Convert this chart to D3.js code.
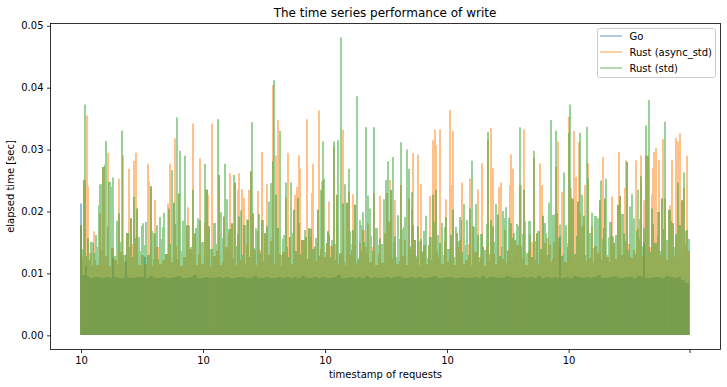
<!DOCTYPE html>
<html><head><meta charset="utf-8">
<script src="https://cdn.jsdelivr.net/npm/d3@7"></script>
<style>html,body{margin:0;padding:0;background:#fff;overflow:hidden}svg{display:block}text{font-family:"DejaVu Sans",sans-serif;fill:#000}</style>
</head><body><div id="c"></div>
<script>
const titleText = "The time series performance of write";
const xLabel = "timestamp of requests";
const yLabel = "elapsed time [sec]";
const seriesNames = ["Go","Rust (async_std)","Rust (std)"];
const seriesColors = ["#1f77b4","#ff7f0e","#2ca02c"];
const xTickSlots = [0,122,244,366,487.6,608.5];
const xTickLabels = ["10","10","10","10","10",""];
const yTickValues = [0,0.01,0.02,0.03,0.04,0.05];

// envelope of the dense band: Go every 4 slots, Rust every 3 slots
const goBand = [.0098,.0096,.0093,.0095,.0094,.0092,.0094,.0093,.0095,.0093,.0092,.0094,.0093,.0092,.0095,.0094,.0093,.0096,.0093,.0092,.0094,.0092,.0093,.0094,.0096,.0093,.0092,.0095,.0098,.0093,.0092,.0094,.0093,.0092,.0095,.0093,.0094,.0092,.0093,.0095,.0094,.0092,.0093,.0096,.0093,.0092,.0095,.0093,.0092,.0094,.0093,.0095,.0092,.0094,.0093,.0096,.0093,.0092,.0094,.0093,.0095,.0092,.0093,.0094,.0097,.0093,.0092,.0094,.0093,.0095,.0092,.0096,.0093,.0094,.0092,.0093,.0095,.0092,.0094,.0096,.0093,.0092,.0095,.0093,.0094,.0092,.0093,.0094,.0096,.0092,.0093,.0095,.0094,.0092,.0093,.0095,.0093,.0092,.0094,.0093,.0096,.0092,.0094,.0095,.0092,.0093,.0096,.0094,.0093,.0092,.0095,.0093,.0094,.0092,.0096,.0093,.0094,.0092,.0095,.0093,.0092,.0094,.0093,.0096,.0094,.0092,.0095,.0093,.0094,.0098,.0093,.0092,.0094,.0096,.0093,.0092,.0095,.0094,.0093,.0096,.0094,.0092,.0093,.0095,.0094,.0093,.0096,.0094,.0093,.0095,.0090,.0084,.0076];
const asyncBand = [.0126,.0118,.0133,.0112,.0121,.0114,.0138,.0116,.0128,.0112,.0141,.0122,.0115,.0134,.0118,.0111,.0126,.0147,.0119,.0113,.0129,.0115,.0137,.0112,.0124,.0142,.0116,.0121,.0132,.0113,.0118,.0145,.0123,.0112,.0127,.0116,.0139,.0119,.0113,.0131,
.0115,.0148,.0122,.0111,.0128,.0136,.0114,.0119,.0143,.0117,.0125,.0112,.0134,.0121,.0115,.0146,.0118,.0127,.0113,.0138,.0120,.0114,.0130,.0152,.0116,.0124,.0112,.0135,.0119,.0141,.0115,.0128,.0113,.0123,.0149,.0117,.0131,.0112,.0120,.0139,
.0116,.0126,.0113,.0144,.0121,.0115,.0133,.0118,.0112,.0129,.0147,.0116,.0122,.0137,.0113,.0125,.0119,.0142,.0114,.0131,.0117,.0112,.0136,.0123,.0150,.0115,.0120,.0128,.0113,.0140,.0118,.0125,.0114,.0133,.0146,.0116,.0121,.0112,.0137,.0127,
.0115,.0152,.0119,.0124,.0113,.0142,.0130,.0116,.0122,.0148,.0114,.0135,.0118,.0126,.0112,.0144,.0120,.0132,.0115,.0155,.0123,.0117,.0138,.0113,.0128,.0146,.0119,.0125,.0114,.0136,.0151,.0121,.0116,.0133,.0127,.0158,.0118,.0124,.0115,.0142,
.0131,.0119,.0149,.0122,.0116,.0137,.0128,.0154,.0120,.0125,.0117,.0145,.0133,.0121,.0160,.0126,.0118,.0140,.0123,.0152,.0130,.0119,.0147,.0125,.0136,.0120,.0156,.0128,.0122,.0143,.0134,.0162,.0124,.0130,.0148,.0121,.0138,.0127,.0155,.0132,
.0124,.0146,.0136,.0120,.0105];
const stdBand = [.0140,.0128,.0122,.0151,.0133,.0126,.0162,.0138,.0124,.0170,.0145,.0128,.0183,.0150,.0130,.0166,.0142,.0126,.0158,.0137,.0176,.0146,.0129,.0168,.0135,.0124,.0155,.0172,.0131,.0148,.0127,.0180,.0153,.0136,.0125,.0160,.0143,.0129,.0174,.0132,
.0150,.0126,.0165,.0139,.0182,.0147,.0128,.0158,.0134,.0171,.0124,.0145,.0163,.0130,.0178,.0152,.0127,.0141,.0168,.0133,.0186,.0148,.0125,.0159,.0137,.0174,.0129,.0155,.0143,.0127,.0166,.0136,.0181,.0131,.0149,.0124,.0172,.0140,.0157,.0128,
.0176,.0135,.0162,.0126,.0147,.0184,.0132,.0154,.0129,.0169,.0138,.0145,.0125,.0178,.0151,.0130,.0160,.0136,.0174,.0127,.0148,.0166,.0133,.0188,.0141,.0126,.0156,.0171,.0130,.0144,.0179,.0128,.0153,.0137,.0168,.0125,.0159,.0183,.0134,.0147,
.0129,.0175,.0140,.0162,.0127,.0152,.0186,.0135,.0146,.0130,.0170,.0155,.0126,.0164,.0138,.0180,.0131,.0150,.0173,.0128,.0142,.0189,.0136,.0158,.0129,.0176,.0144,.0163,.0133,.0185,.0127,.0152,.0169,.0139,.0181,.0130,.0148,.0194,.0135,.0157,
.0128,.0172,.0143,.0187,.0132,.0160,.0150,.0178,.0129,.0165,.0141,.0192,.0136,.0155,.0174,.0130,.0183,.0147,.0162,.0134,.0196,.0152,.0138,.0176,.0131,.0168,.0188,.0144,.0158,.0135,.0180,.0149,.0199,.0137,.0171,.0154,.0185,.0142,.0164,.0178,
.0139,.0168,.0156,.0130,.0108];

// isolated slow requests per series
const goSlots = [0,0,32,45,64,479,563,5];
const goPeaks = [.0213,.0122,.0125,.0120,.0127,.0160,.0150,.0112];
const asyncSlots = [7,6,4,10,13,23,27,38,42,46,48,53,55,67,68,74,87,89,94,112,107,119,125,127,131,138,149,154,158,157,161,163,168,170,177,181,186,192,195,197,207,214,216,218,219,226,232,231,238,241,248,253,262,266,268,272,283,299,309,314,332,337,340,349,352,354,355,359,365,369,370,372,381,389,397,401,407,410,412,418,420,429,430,432,440,443,453,459,461,477,475,481,488,490,493,495,498,504,507,522,531,538,544,545,555,560,563,565,571,572,575,573,578,582,589,591,595,597,599,606,608];
const asyncPeaks = [.0241,.0355,.0251,.0133,.0168,.0272,.0295,.0253,.0291,.0165,.0269,.0282,.0295,.0277,.0249,.0219,.0213,.0277,.0318,.0342,.0207,.0286,.0236,.0227,.0342,.0258,.0262,.0247,.0262,.0235,.0236,.0222,.0235,.0264,.0233,.0296,.0244,.0404,.0291,.0348,.0295,.0227,.0240,.0291,.0269,.0349,.0277,.0230,.0363,.0249,.0216,.0305,.0332,.0214,.0231,.0228,.0170,.0225,.0251,.0218,.0294,.0292,.0244,.0225,.0315,.0332,.0307,.0333,.0220,.0364,.0243,.0330,.0247,.0253,.0236,.0278,.0316,.0335,.0270,.0239,.0247,.0243,.0292,.0269,.0243,.0333,.0286,.0278,.0243,.0313,.0272,.0231,.0353,.0238,.0330,.0256,.0312,.0243,.0278,.0288,.0224,.0296,.0238,.0283,.0283,.0291,.0218,.0291,.0228,.0270,.0303,.0296,.0283,.0317,.0210,.0283,.0319,.0313,.0326,.0290,.0130];
const stdSlots = [4,20,25,24,29,30,32,41,70,91,96,99,104,112,124,137,144,146,153,171,190,193,199,205,210,242,243,240,253,257,260,264,268,276,285,293,305,307,312,320,326,328,331,391,407,439,443,453,470,475,483,489,499,506,520,525,546,560,565,568,584,603,597,0,7,12,15,16,18,19,28,36,58,62,65,73,76,79,82,83,102,108,114,117,140,160,166,175,178,181,184,188,203,217,224,229,234,237,247,251,274,279,282,287,289,297,299,303,317,323,324,337,345,348,357,361,365,375,379,383,386,394,395,415,422,425,428,433,436,444,449,456,462,465,468,473,479,485,492,501,511,514,517,528,532,534,537,539,543,549,551,553,557,577,581,589];
const stdPeaks = [.0373,.0244,.0314,.0276,.0248,.0240,.0255,.0331,.0241,.0267,.0352,.0298,.0290,.0235,.0277,.0349,.0277,.0220,.0259,.0344,.0246,.0412,.0330,.0247,.0247,.0313,.0253,.0235,.0313,.0315,.0481,.0244,.0269,.0386,.0336,.0336,.0251,.0281,.0288,.0312,.0300,.0269,.0231,.0282,.0329,.0336,.0234,.0298,.0348,.0331,.0263,.0373,.0327,.0337,.0250,.0253,.0280,.0256,.0339,.0380,.0345,.0263,.0247,.0178,.0157,.0149,.0162,.0143,.0210,.0244,.0248,.0185,.0159,.0181,.0183,.0165,.0178,.0191,.0175,.0198,.0185,.0178,.0164,.0189,.0199,.0202,.0187,.0173,.0196,.0146,.0165,.0216,.0162,.0222,.0170,.0173,.0138,.0179,.0167,.0154,.0210,.0186,.0199,.0226,.0205,.0146,.0157,.0220,.0194,.0175,.0191,.0175,.0193,.0146,.0162,.0182,.0191,.0175,.0191,.0212,.0186,.0175,.0212,.0212,.0201,.0207,.0190,.0165,.0180,.0184,.0160,.0165,.0193,.0165,.0214,.0195,.0179,.0178,.0220,.0227,.0198,.0171,.0189,.0158,.0160,.0150,.0211,.0225,.0165,.0208,.0228,.0189,.0235,.0159,.0221,.0203];
// slow requests seen in both Rust series
const sharedSlots = [0,3,19,22,27,38,45,50,53,56,70,74,88,93,98,106,112,114,119,124,126,128,138,143,148,151,154,158,163,170,167,172,174,181,184,186,192,195,199,205,209,213,217,221,223,225,228,230,234,237,242,246,247,253,256,262,266,268,272,274,279,282,285,287,293,299,304,306,308,310,314,320,324,328,331,334,337,340,348,352,355,359,365,372,376,379,389,392,397,402,407,410,412,417,420,424,430,434,439,443,449,453,456,462,464,469,473,476,482,488,491,497,499,501,503,507,511,516,519,522,524,530,533,537,539,543,546,549,553,557,560,563,567,571,575,577,581,584,588,592,597,601,603,606];
const sharedPeaks = [.0178,.0251,.0197,.0272,.0176,.0197,.0130,.0189,.0224,.0205,.0241,.0165,.0205,.0214,.0229,.0178,.0235,.0165,.0186,.0181,.0235,.0176,.0259,.0192,.0165,.0181,.0247,.0192,.0170,.0265,.0186,.0197,.0138,.0146,.0165,.0176,.0281,.0227,.0132,.0224,.0159,.0203,.0222,.0154,.0154,.0159,.0173,.0159,.0143,.0203,.0251,.0149,.0168,.0305,.0227,.0213,.0214,.0232,.0170,.0211,.0149,.0170,.0143,.0181,.0230,.0157,.0165,.0230,.0184,.0235,.0160,.0243,.0154,.0221,.0203,.0154,.0176,.0155,.0146,.0227,.0235,.0149,.0191,.0203,.0165,.0154,.0205,.0176,.0162,.0143,.0316,.0186,.0176,.0195,.0127,.0170,.0181,.0154,.0243,.0235,.0162,.0286,.0165,.0192,.0149,.0146,.0151,.0197,.0127,.0327,.0221,.0216,.0197,.0176,.0193,.0254,.0176,.0122,.0218,.0146,.0221,.0160,.0149,.0211,.0225,.0164,.0280,.0127,.0138,.0173,.0257,.0173,.0290,.0205,.0116,.0160,.0221,.0221,.0203,.0181,.0247,.0218,.0238,.0170];

const W=727,H=387;
const svg=d3.select("#c").append("svg").attr("width",W).attr("height",H);
const L=50.5,R=720.5,T=23.5,B=349.5;
const x=d3.scaleLinear().domain([-30.5,639.5]).range([L,R]);
const y=d3.scaleLinear().domain([-0.00229,0.05037]).range([B,T]);
const floorV=0.0001, bandSteps=[4,3,3], lastSlot=609;

svg.append("clipPath").attr("id","pa").append("rect").attr("x",L).attr("y",T).attr("width",R-L).attr("height",B-T);
const plot=svg.append("g").attr("clip-path","url(#pa)");

const spike=d3.line().x(d=>x(d[0])).y(d=>y(d[1]));
const bands=[goBand,asyncBand,stdBand];
const slots=[goSlots,asyncSlots.concat(sharedSlots),stdSlots.concat(sharedSlots)];
const peaks=[goPeaks,asyncPeaks.concat(sharedPeaks),stdPeaks.concat(sharedPeaks)];
seriesNames.forEach((n,k)=>{
  const area=d3.area().x((d,i)=>x(Math.min(i*bandSteps[k],lastSlot))).y0(y(floorV)).y1(d=>y(d)).curve(d3.curveStepAfter);
  const g=plot.append("g").attr("opacity",0.5);
  g.append("path").attr("d",area(bands[k])).attr("fill",seriesColors[k]).attr("shape-rendering","crispEdges");
  const d=slots[k].map((s,i)=>spike([[s,floorV],[s,peaks[k][i]]])).join("");
  g.append("path").attr("d",d).attr("fill","none").attr("stroke",seriesColors[k]).attr("stroke-width",1.9);
});

const xa=d3.axisBottom(x).tickValues(xTickSlots).tickFormat((d,i)=>xTickLabels[i]).tickSize(3.5).tickPadding(3.5);
const ya=d3.axisLeft(y).tickValues(yTickValues).tickFormat(d3.format(".2f")).tickSize(3.5).tickPadding(3.5);
const gx=svg.append("g").attr("transform",`translate(0,${B})`).call(xa);
const gy=svg.append("g").attr("transform",`translate(${L},0)`).call(ya);
[gx,gy].forEach(g=>{g.select(".domain").remove();g.selectAll("line").attr("stroke","#000").attr("stroke-width",.8);g.selectAll("text").attr("font-size",10).attr("fill","#000");});
svg.append("rect").attr("x",L).attr("y",T).attr("width",R-L).attr("height",B-T).attr("fill","none").attr("stroke","#000").attr("stroke-width",.8);

svg.append("text").attr("x",385).attr("y",17).attr("text-anchor","middle").attr("font-size",12).text(titleText);
svg.append("text").attr("x",385.5).attr("y",378).attr("text-anchor","middle").attr("font-size",10).text(xLabel);
svg.append("text").attr("transform","translate(14,186.5) rotate(-90)").attr("text-anchor","middle").attr("font-size",10).text(yLabel);

const lg=svg.append("g");
lg.append("rect").attr("x",597.5).attr("y",28.5).attr("width",118).attr("height",49).attr("rx",2).attr("fill","#fff").attr("fill-opacity",.8).attr("stroke","#ccc").attr("stroke-width",1);
seriesNames.forEach((n,k)=>{
  const yy=36+k*16;
  lg.append("line").attr("x1",600).attr("x2",622).attr("y1",yy).attr("y2",yy).attr("stroke",seriesColors[k]).attr("stroke-opacity",.5).attr("stroke-width",1.5);
  lg.append("text").attr("x",629.5).attr("y",yy+3.5).attr("font-size",10).text(n);
});
</script></body></html>
